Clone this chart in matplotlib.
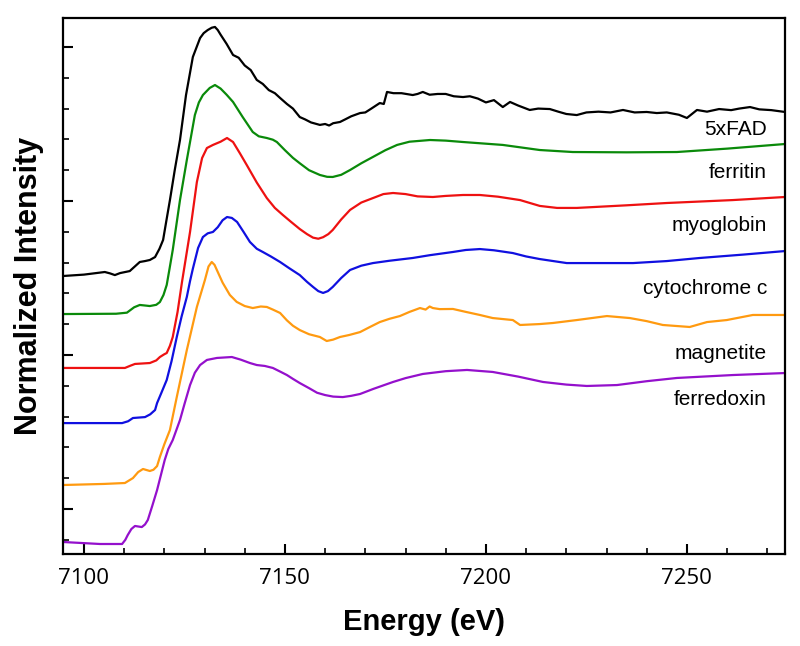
import matplotlib
matplotlib.use("Agg")
import matplotlib.pyplot as plt
from matplotlib.ticker import MultipleLocator, NullFormatter

# ---- data (energy in eV, normalized intensity with stacking offsets) ----
fad_e = [7094.8, 7100, 7105.2, 7106.5, 7107.7, 7109, 7111.4, 7113.9, 7115.2, 7116.4, 7117.7, 7118.8,
         7119.7, 7120.5, 7121.4, 7122.6, 7123.9, 7125.4, 7127.1, 7128.9, 7129.8, 7130.8, 7131.8, 7132.6,
         7133.3, 7134, 7135.5, 7137.1, 7138.5, 7140, 7141.5, 7143.0, 7144.5, 7146, 7147.5, 7148.8, 7150.5,
         7152, 7153.7, 7155, 7156.5, 7158.7, 7160, 7161, 7162, 7163.7, 7165, 7166.5, 7168.7, 7170, 7171.5,
         7173.6, 7174.6, 7175.4, 7177, 7179, 7181.8, 7183, 7184.3, 7186, 7188, 7190, 7192, 7194.3, 7196,
         7198, 7200, 7202, 7204.2, 7206.0, 7208, 7210.9, 7213, 7215.9, 7218, 7220, 7222.6, 7225, 7228,
         7231, 7234.1, 7237, 7240, 7242.5, 7245, 7248, 7250.0, 7252.5, 7255, 7258, 7261, 7263, 7265.7,
         7268, 7271, 7274.4]
fad_i = [1.513, 1.522, 1.539, 1.530, 1.519, 1.532, 1.545, 1.604, 1.610, 1.617, 1.636, 1.690,
         1.747, 1.870, 2.006, 2.201, 2.396, 2.688, 2.935, 3.058, 3.090, 3.110, 3.125, 3.130,
         3.110, 3.080, 3.020, 2.948, 2.930, 2.880, 2.850, 2.786, 2.760, 2.720, 2.700, 2.669, 2.630,
         2.600, 2.545, 2.530, 2.510, 2.494, 2.500, 2.490, 2.505, 2.513, 2.530, 2.550, 2.571, 2.575, 2.600,
         2.636, 2.630, 2.708, 2.700, 2.700, 2.688, 2.695, 2.708, 2.690, 2.695, 2.695, 2.680, 2.675, 2.680,
         2.665, 2.640, 2.655, 2.610, 2.643, 2.620, 2.591, 2.600, 2.597, 2.580, 2.565, 2.558, 2.575, 2.580,
         2.575, 2.591, 2.575, 2.578, 2.571, 2.575, 2.560, 2.539, 2.591, 2.580, 2.597, 2.590, 2.600, 2.610,
         2.595, 2.590, 2.578]

ferritin_e = [7094.8, 7108, 7110.7, 7112.5, 7113.9, 7115, 7116.4, 7118, 7118.9, 7119.8, 7120.6, 7121.3,
              7122.1, 7123.9, 7125.6, 7127.6, 7128.6, 7129.6, 7131.3, 7132.6, 7134, 7135.5, 7137.1,
              7139.5, 7142.0, 7143.5, 7145.5, 7147, 7148.0, 7150, 7152, 7153.7, 7156, 7158.7, 7160.5,
              7161.9, 7164, 7166.2, 7169, 7171.9, 7175, 7177.9, 7181, 7186.1, 7190, 7194.3, 7204.2,
              7213.4, 7221.6, 7235, 7247.5, 7260, 7274.4]
ferritin_i = [1.266, 1.268, 1.275, 1.310, 1.325, 1.322, 1.318, 1.326, 1.344, 1.390, 1.455, 1.560,
              1.682, 2.006, 2.266, 2.558, 2.640, 2.688, 2.734, 2.753, 2.730, 2.690, 2.643,
              2.545, 2.448, 2.420, 2.409, 2.398, 2.383, 2.330, 2.280, 2.245, 2.200, 2.169, 2.157,
              2.156, 2.170, 2.201, 2.245, 2.286, 2.330, 2.364, 2.385, 2.396, 2.392, 2.383, 2.364,
              2.331, 2.318, 2.316, 2.318, 2.340, 2.370]

myoglobin_e = [7094.8, 7110.2, 7111.5, 7112.7, 7116.4, 7118, 7118.9, 7120, 7120.6, 7121.4, 7122.1,
               7123.3, 7124.4, 7126.4, 7128.1, 7129.4, 7130.6, 7132.1, 7134, 7135.6, 7137.1, 7138.8,
               7140.5, 7143, 7145.5, 7147.5, 7149.5, 7151.5, 7153.7, 7155.5, 7157.0, 7158.3, 7159.5,
               7160.8, 7161.9, 7164, 7166.2, 7169, 7171.9, 7174.5, 7176.9, 7180, 7183, 7186.8, 7190,
               7194.3, 7198.5, 7203, 7208.5, 7213.4, 7217.7, 7222.6, 7235, 7245.0, 7261.4, 7274.4]
myoglobin_i = [0.916, 0.916, 0.930, 0.942, 0.948, 0.965, 0.987, 1.005, 1.013, 1.060, 1.117,
               1.280, 1.474, 1.799, 2.123, 2.279, 2.344, 2.364, 2.385, 2.409, 2.383, 2.310,
               2.234, 2.120, 2.019, 1.955, 1.909, 1.865, 1.818, 1.785, 1.762, 1.755, 1.765,
               1.785, 1.812, 1.880, 1.942, 1.990, 2.019, 2.045, 2.052, 2.045, 2.030, 2.026, 2.033,
               2.039, 2.039, 2.028, 2.006, 1.968, 1.955, 1.955, 1.972, 1.987, 2.006, 2.026]

cytc_e = [7094.8, 7109.5, 7111, 7112.2, 7115.2, 7116.5, 7117.7, 7118.2, 7119.2, 7120.6, 7121.8,
          7123.1, 7124.3, 7125.6, 7126.4, 7127.1, 7128.4, 7129.6, 7130.8, 7132.1, 7133.3, 7134.5,
          7135.6, 7136.8, 7138.1, 7139.7, 7141.3, 7143, 7144.5, 7146.5, 7148.8, 7151, 7153.7, 7155.5,
          7157.0, 7158.3, 7159.5, 7160.7, 7161.9, 7164, 7166.2, 7169, 7171.9, 7176, 7181.8, 7186,
          7191.8, 7195, 7198.5, 7202, 7206.7, 7210, 7213.4, 7220.1, 7236.6, 7245, 7253.2, 7264, 7274.4]
cytc_i = [0.558, 0.558, 0.570, 0.591, 0.597, 0.615, 0.643, 0.688, 0.750, 0.838, 0.960,
          1.117, 1.250, 1.377, 1.480, 1.560, 1.695, 1.766, 1.790, 1.799, 1.830, 1.875,
          1.896, 1.890, 1.864, 1.800, 1.734, 1.690, 1.669, 1.640, 1.604, 1.565, 1.519, 1.475,
          1.442, 1.415, 1.403, 1.415, 1.442, 1.500, 1.552, 1.580, 1.597, 1.612, 1.630, 1.648,
          1.669, 1.682, 1.688, 1.680, 1.662, 1.640, 1.623, 1.597, 1.597, 1.610, 1.630, 1.652, 1.675]

magnetite_e = [7094.8, 7105, 7110.2, 7112.2, 7113.5, 7114.7, 7116.4, 7117.3, 7118.2, 7118.9, 7120,
               7121.4, 7123.1, 7125.6, 7128.1, 7130.1, 7131, 7131.8, 7132.5, 7133.3, 7134.5, 7136.3,
               7138, 7140, 7142.0, 7144, 7145.5, 7147, 7148.8, 7150.5, 7152, 7153.7, 7156, 7158.7,
               7160.4, 7162, 7163.7, 7166, 7168.7, 7171, 7173.6, 7176, 7178.6, 7181, 7183.6, 7185,
               7186, 7186.8, 7188.5, 7191.8, 7195, 7198.5, 7201.7, 7206.7, 7208.5, 7213.4, 7216.7,
               7222.6, 7230.1, 7235.8, 7240, 7244.0, 7250.7, 7255.0, 7259.9, 7266.4, 7274.4]
magnetite_i = [0.156, 0.163, 0.169, 0.201, 0.240, 0.260, 0.247, 0.255, 0.279, 0.338, 0.420,
               0.513, 0.727, 1.032, 1.312, 1.487, 1.575, 1.604, 1.585, 1.539, 1.470, 1.390,
               1.345, 1.318, 1.305, 1.315, 1.312, 1.295, 1.273, 1.225, 1.190, 1.162, 1.135, 1.117,
               1.091, 1.100, 1.117, 1.130, 1.149, 1.180, 1.214, 1.235, 1.253, 1.280, 1.305, 1.295,
               1.315, 1.305, 1.298, 1.299, 1.280, 1.260, 1.240, 1.227, 1.195, 1.201, 1.208,
               1.227, 1.253, 1.240, 1.220, 1.195, 1.182, 1.214, 1.227, 1.260, 1.260]

ferredoxin_e = [7094.8, 7104.0, 7109.5, 7110.3, 7110.9, 7111.8, 7112.7, 7114.4, 7115.2, 7115.9, 7117,
                7118.2, 7120.1, 7121, 7122.1, 7123.9, 7125, 7126.4, 7127.6, 7128.9, 7130.6, 7133.1,
                7136.8, 7139, 7141.3, 7143, 7145.0, 7147.0, 7149, 7150.5, 7152, 7153.7, 7156, 7158,
                7160.0, 7162, 7164.4, 7166.5, 7168.7, 7172, 7176.9, 7180, 7184.3, 7190, 7195.3, 7201.7,
                7208, 7214.2, 7220, 7225.1, 7232.6, 7240, 7247.5, 7261.4, 7274.4]
ferredoxin_i = [-0.214, -0.227, -0.227, -0.200, -0.169, -0.130, -0.110, -0.117, -0.100, -0.071, 0.020,
                0.123, 0.318, 0.390, 0.448, 0.578, 0.680, 0.805, 0.885, 0.935, 0.968, 0.981,
                0.987, 0.970, 0.948, 0.935, 0.929, 0.916, 0.890, 0.870, 0.845, 0.818, 0.785, 0.755,
                0.740, 0.730, 0.727, 0.735, 0.747, 0.780, 0.825, 0.850, 0.877, 0.895, 0.903, 0.890,
                0.860, 0.825, 0.808, 0.799, 0.805, 0.830, 0.851, 0.870, 0.883]

labels = ["5xFAD", "ferritin", "myoglobin", "cytochrome c", "magnetite", "ferredoxin"]
label_y = [2.461, 2.188, 1.838, 1.435, 1.013, 0.708]
colors = ["#000000", "#0a8a0a", "#ee1111", "#1010e0", "#ff9a10", "#9410cc"]

series = [(fad_e, fad_i), (ferritin_e, ferritin_i), (myoglobin_e, myoglobin_i),
          (cytc_e, cytc_i), (magnetite_e, magnetite_i), (ferredoxin_e, ferredoxin_i)]

fig = plt.figure(figsize=(8, 6.46), dpi=100)
ax = fig.add_axes([0.07875, 0.1424, 0.9025, 0.8297])

for (e, i), c in zip(series, colors):
    ax.plot(e, i, color=c, lw=1.6, solid_joinstyle="round")

for lab, y in zip(labels, label_y):
    ax.text(7269.9, y, lab, ha="right", va="center", fontsize=15, family="Liberation Sans")

ax.set_xlim(7094.8, 7274.4)
ax.set_ylim(-0.292, 3.188)
ax.xaxis.set_major_locator(MultipleLocator(50))
ax.xaxis.set_minor_locator(MultipleLocator(10))
ax.yaxis.set_major_locator(MultipleLocator(1))
ax.yaxis.set_minor_locator(MultipleLocator(0.2))
ax.yaxis.set_major_formatter(NullFormatter())
ax.tick_params(axis="both", which="major", direction="in", length=7, width=1.5)
ax.tick_params(axis="both", which="minor", direction="in", length=4, width=1.2)
ax.tick_params(axis="x", labelsize=16, pad=10)
for t in ax.get_xticklabels():
    t.set_family("Open Sans")
for s in ax.spines.values():
    s.set_linewidth(1.6)

ax.set_xlabel("Energy (eV)", fontsize=21, fontweight="bold", family="Liberation Sans", labelpad=14)
ax.set_ylabel("Normalized Intensity", fontsize=22, fontweight="bold", family="Liberation Sans", labelpad=10)

fig.savefig("out.png", dpi=100)
